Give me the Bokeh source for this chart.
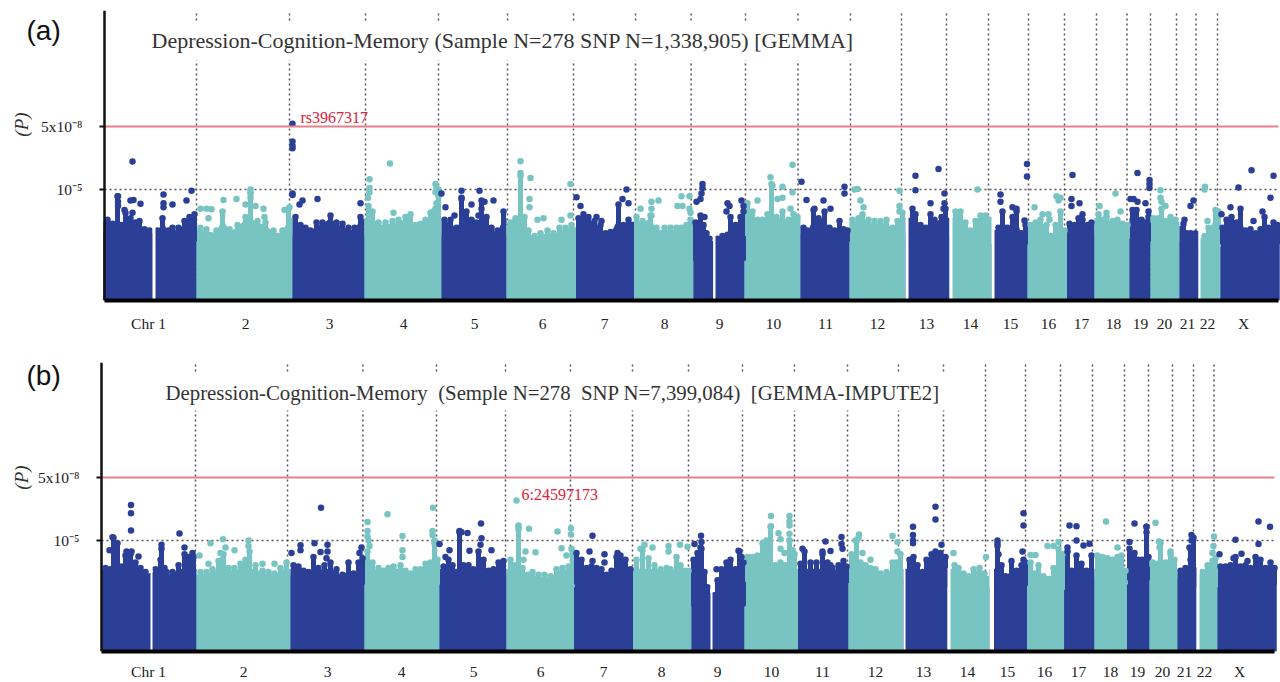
from bokeh.plotting import figure
from bokeh.layouts import column
from bokeh.models import Range1d, FixedTicker, Label
from bokeh.embed import file_html
from bokeh.resources import INLINE
import numpy as np

NAVY = "#2B3F96"
TEAL = "#77C4C2"
RED_LINE = "#E5808C"
RED_TEXT = "#E0203A"
DOT_GREY = "#555555"
SERIF = "Liberation Serif"

CHR_NAMES = ["Chr 1", "2", "3", "4", "5", "6", "7", "8", "9", "10", "11", "12", "13", "14", "15", "16", "17", "18", "19", "20", "21", "22", "X"]

# ---------- panel (a): position on the genome strip, -log10(P) ----------
A_LABEL_POS = [148, 245, 329, 403, 474, 542, 604, 664, 719, 773, 825, 877, 926, 970, 1010, 1048, 1081, 1113, 1140, 1164, 1187, 1207, 1243]
A_EDGES = [103, 196, 292, 364, 441, 506, 575.5, 633.5, 693, 744, 800, 849, 905, 949, 991, 1027, 1066.5, 1094, 1129, 1150, 1179, 1198, 1220, 1279]
A_BASE = [3.4, 3.4, 3.3, 3.35, 3.3, 3.3, 3.3, 3.5, 2.7, 3.6, 3.4, 3.55, 3.3, 3.3, 3.3, 3.3, 3.3, 3.5, 3.4, 3.5, 3.1, 3.2, 3.3]
A_GAPS = [(152, 155), (712.6, 715), (905, 908), (949, 952), (991, 994), (1198, 1200)]
A_DIVIDERS = [196, 289, 365, 438, 507, 573, 635, 690.6, 745, 797.5, 850, 901, 946, 988, 1028, 1064, 1096, 1126.5, 1150, 1176, 1195.5, 1217]
A_TOWERS = [
    (107, 3.9), (112, 3.75), (117, 4.75), (121, 3.7), (125, 4.15), (130, 3.95), (135, 3.8), (139, 3.85), (144, 3.55), (149, 3.5),
    (157, 3.5), (162, 3.95), (168, 3.5), (172, 3.6), (178, 3.6), (184, 3.85), (189, 4.0), (194, 4.1),
    (200, 3.6), (206, 3.55), (216, 3.5), (222, 4.2), (229, 3.55), (237, 3.7), (245, 4.0), (250, 4.9), (257, 3.85), (265, 3.8), (273, 3.5), (282, 3.5), (288, 4.3),
    (295, 4.0), (300, 3.7), (305, 3.6), (310, 3.5), (316, 3.8), (322, 3.8), (330, 4.05), (336, 3.8), (342, 3.75), (348, 3.6), (354, 3.6), (360, 4.0),
    (368, 4.4), (372, 4.2), (378, 3.8), (385, 3.8), (392, 3.85), (398, 3.9), (405, 4.0), (410, 4.1), (415, 3.7), (420, 3.75), (425, 3.9), (430, 4.15), (435, 4.3), (438, 5.0),
    (444, 3.9), (450, 3.9), (456, 3.6), (461, 4.7), (466, 4.2), (471, 3.9), (476, 3.8), (481, 4.6), (486, 4.0), (491, 3.6), (497, 3.5), (503, 4.2),
    (510, 3.8), (515, 3.95), (520, 5.5), (524, 4.0), (528, 3.5), (534, 3.3), (540, 3.4), (547, 3.5), (553, 3.4), (559, 3.6), (565, 3.6), (571, 3.7),
    (578, 3.95), (583, 4.1), (588, 4.0), (594, 3.85), (600, 3.7), (605, 3.4), (610, 3.45), (618, 4.45), (623, 3.7), (628, 3.9),
    (636, 4.0), (642, 3.85), (650, 4.05), (656, 3.6), (664, 3.6), (670, 3.6), (676, 3.6), (681, 3.6), (686, 3.7), (690, 3.9),
    (695, 3.8), (700, 4.05), (703, 3.7), (706, 3.4), (709, 3.2), (717, 3.2), (722, 3.3), (727, 3.35), (730, 4.0), (735, 3.7), (740, 4.0), (743, 4.2),
    (747, 4.5), (752, 4.2), (757, 3.9), (762, 3.9), (767, 4.1), (771, 5.2), (776, 4.0), (782, 4.2), (788, 3.9), (793, 4.1), (797, 4.0),
    (803, 3.6), (807, 3.5), (813, 4.25), (818, 3.95), (824, 4.2), (829, 3.6), (834, 3.5), (839, 3.85), (843, 3.55), (847, 3.5),
    (852, 3.9), (858, 3.95), (862, 4.1), (868, 3.9), (874, 3.85), (880, 3.85), (886, 3.9), (892, 3.6), (897, 3.85), (902, 4.15),
    (912, 4.3), (915, 4.1), (920, 3.7), (925, 3.6), (930, 4.1), (934, 3.9), (941, 4.0), (945, 4.3),
    (955, 4.2), (960, 4.2), (965, 3.8), (970, 3.5), (975, 3.85), (980, 4.05), (985, 4.05), (989, 3.9),
    (998, 3.6), (1002, 4.2), (1007, 3.6), (1012, 4.0), (1016, 4.2), (1021, 3.4), (1025, 3.7),
    (1030, 3.7), (1035, 3.8), (1040, 3.9), (1046, 3.7), (1050, 3.3), (1055, 3.7), (1060, 4.2), (1064, 3.5),
    (1069, 3.75), (1074, 3.7), (1078, 3.95), (1082, 3.9), (1087, 3.7), (1091, 3.8),
    (1098, 4.1), (1102, 3.9), (1106, 4.0), (1112, 3.85), (1117, 3.9), (1122, 3.75), (1127, 3.7),
    (1132, 4.25), (1136, 4.25), (1141, 3.9), (1145, 3.8), (1148, 4.0),
    (1153, 3.85), (1158, 3.95), (1161, 4.3), (1165, 3.85), (1170, 4.0), (1175, 3.9),
    (1183, 3.75), (1186, 3.4), (1190, 3.4), (1195, 3.4),
    (1204, 3.3), (1208, 3.6), (1215, 4.25), (1218, 4.2),
    (1222, 3.6), (1226, 3.9), (1231, 4.0), (1236, 3.8), (1240, 4.3), (1245, 3.5), (1250, 3.55), (1255, 3.4), (1260, 3.55), (1264, 4.0), (1268, 3.6), (1273, 3.8), (1277, 3.7),
]
A_DOTS = [
    (132, 6.02), (117.5, 4.75), (117.5, 4.55), (117.5, 4.4), (130, 4.6), (133, 4.62), (140, 4.48), (124, 4.25), (163, 4.82), (163, 4.5), (163, 4.35), (172, 4.45), (186, 4.6), (191, 4.95), (132, 4.15),
    (223, 4.62), (236, 4.65), (250, 5.0), (250, 4.85), (250, 4.7), (245, 4.45), (255, 4.4), (263, 4.3), (200, 4.3), (206, 4.3), (211, 4.28), (208, 3.95), (284, 4.25), (289, 4.35), (264, 4.0),
    (292, 7.4), (292, 6.75), (292, 6.6), (292, 6.5), (292, 4.8), (292, 4.85), (302, 4.6), (299, 4.45), (317, 4.65), (360, 4.5),
    (389.5, 5.95), (369, 5.37), (369, 5.05), (369, 4.9), (367.5, 4.7), (435, 5.2), (436, 5.05), (435, 4.9), (438, 4.75), (436, 4.5), (433, 4.2), (393, 4.15),
    (441, 4.85), (445, 4.35), (454, 4.05), (461, 4.95), (461, 4.65), (471, 4.45), (479, 4.95), (484, 4.55), (493, 4.6), (465, 4.1), (478, 4.05), (481, 4.3),
    (520, 6.03), (530, 5.42), (520, 5.6), (529, 4.65), (529, 4.35), (537, 3.9), (543, 3.95), (561, 3.9), (570, 5.2), (570, 4.05),
    (576, 4.72), (580, 4.4), (626, 5.0), (622, 4.65), (628, 4.5), (596, 4.0), (601, 3.85),
    (640, 4.3), (651, 4.55), (658, 4.6), (651, 4.3), (651, 4.05), (681, 4.75), (677, 4.4), (682, 4.4), (689, 4.75), (689, 4.3), (690, 4.15),
    (702, 5.2), (702, 5.05), (701, 4.85), (700, 4.65), (696, 4.55), (704, 4.0), (727, 4.5), (729, 4.4), (726, 4.2), (741, 4.6), (743, 4.4),
    (792, 5.9), (770, 5.45), (772, 5.15), (782, 5.1), (792, 4.9), (757, 4.6), (782, 4.7), (790, 4.3), (777, 4.65),
    (801, 5.28), (806, 4.62), (823, 4.6), (830, 4.3), (844, 5.1), (844, 4.85), (814, 4.3),
    (854, 5.0), (857, 5.02), (860, 4.6), (863, 4.35), (899, 4.95), (899, 4.4), (899, 4.2),
    (915, 5.5), (915, 4.97), (938, 5.75), (944, 4.85), (944, 4.5), (943, 4.3), (930, 4.5),
    (977, 5.0), (985, 4.0),
    (1026.5, 5.93), (1026.5, 5.47), (1000, 4.82), (1000, 4.55), (1012, 4.35), (1016, 4.3), (1024, 3.87),
    (1034, 4.35), (1042, 4.1), (1048, 4.1), (1056, 4.75), (1060, 4.7), (1058, 4.6), (1049, 3.9),
    (1072, 5.53), (1071, 4.65), (1071, 4.4), (1079, 4.5), (1082, 4.1),
    (1099, 4.4), (1115, 4.85), (1120, 4.2), (1106, 4.15),
    (1137, 5.6), (1149, 5.35), (1149, 5.2), (1149, 5.05), (1130, 4.65), (1133, 4.65), (1137, 4.55), (1145, 4.5), (1148, 4.2),
    (1160, 4.97), (1160, 4.7), (1161, 4.55), (1165, 4.4), (1153, 3.95),
    (1193, 4.6), (1190, 4.4), (1184, 3.9),
    (1204.5, 5.1), (1204, 5.0), (1207, 3.85),
    (1251, 5.7), (1273, 5.5), (1238, 5.07), (1270, 4.7), (1230, 4.35), (1221, 4.1), (1253, 3.85), (1262, 4.2),
]

# ---------- panel (b) ----------
B_LABEL_POS = [148, 243, 327, 401, 473, 540, 603, 661, 717, 771, 822, 875, 923, 967, 1007, 1044, 1078, 1110, 1137, 1162, 1184, 1204, 1239]
B_EDGES = [101, 196, 290, 364, 439, 506, 573.5, 632.6, 691, 744, 797.5, 848, 903, 947, 989, 1026.5, 1063.7, 1094, 1126.5, 1149, 1177, 1196, 1217, 1276]
B_BASE = [3.75, 3.75, 3.7, 3.7, 3.7, 3.6, 3.7, 3.8, 2.9, 3.8, 3.75, 3.75, 3.6, 3.6, 3.65, 3.5, 3.6, 3.7, 3.85, 3.8, 3.6, 3.6, 3.7]
B_GAPS = [(150, 152), (710, 712), (903, 905), (947, 950), (989, 993.5), (1196, 1199)]
B_DIVIDERS = [195, 287, 362.4, 436, 505, 570, 632, 688, 742, 794, 847, 898, 943, 985, 1025, 1060, 1092, 1124, 1148, 1172, 1193, 1213.5]
B_TOWERS = [
    (105, 4.0), (110, 3.95), (113, 5.1), (117, 4.9), (121, 4.05), (125, 4.45), (130, 4.5), (135, 4.2), (140, 4.0), (145, 3.85),
    (155, 3.95), (160, 4.3), (161, 4.7), (166, 3.85), (172, 3.85), (178, 4.1), (184, 4.5), (188, 4.4), (193, 4.4),
    (200, 3.85), (206, 3.85), (212, 3.95), (218, 4.25), (223, 4.5), (228, 4.0), (234, 4.0), (240, 4.15), (245, 4.3), (249, 4.6), (255, 4.1), (262, 3.9), (268, 3.85), (274, 3.8), (280, 4.0), (286, 4.2),
    (293, 4.1), (298, 4.05), (303, 3.9), (308, 3.85), (313, 4.4), (318, 4.0), (324, 4.1), (330, 4.2), (336, 3.95), (342, 3.75), (348, 4.2), (353, 3.8), (358, 4.2), (362, 4.35),
    (367, 4.6), (372, 4.2), (378, 4.0), (383, 3.9), (388, 4.0), (393, 4.05), (400, 4.1), (405, 3.9), (410, 3.8), (415, 3.95), (420, 3.95), (425, 4.15), (430, 4.2), (434, 4.9), (437, 4.3),
    (443, 4.05), (448, 4.3), (452, 4.1), (459, 5.3), (463, 4.1), (468, 4.1), (473, 3.95), (478, 4.6), (483, 4.3), (488, 3.9), (493, 3.95), (498, 4.2), (503, 4.25),
    (510, 4.3), (514, 4.1), (518, 5.5), (522, 4.0), (527, 3.75), (532, 3.85), (538, 3.75), (544, 3.75), (550, 3.7), (556, 3.95), (562, 4.0), (568, 4.05), (572, 4.6),
    (576, 4.55), (581, 4.3), (586, 4.0), (591, 4.05), (596, 4.0), (601, 3.95), (606, 3.75), (611, 3.9), (616, 4.4), (620, 4.45), (625, 4.3), (630, 3.95),
    (636, 4.3), (642, 4.65), (648, 4.35), (654, 4.1), (660, 3.95), (666, 4.0), (670, 3.95), (676, 4.4), (680, 4.1), (684, 3.9), (688, 3.9),
    (693, 4.3), (697, 4.55), (701, 4.7), (704, 3.85), (707, 3.3), (714, 3.0), (717, 3.55), (721, 3.95), (726, 4.2), (730, 4.3), (735, 3.95), (739, 4.6), (743, 4.2),
    (747, 4.4), (752, 4.4), (757, 4.45), (762, 4.9), (766, 5.0), (770, 5.5), (775, 4.1), (780, 4.2), (785, 4.1), (789, 5.0), (794, 4.5),
    (800, 4.15), (804, 4.6), (810, 4.2), (816, 4.2), (822, 4.5), (827, 4.2), (832, 4.0), (838, 4.1), (843, 4.25), (846, 4.05),
    (851, 4.5), (856, 5.0), (860, 4.2), (865, 4.1), (870, 4.0), (875, 3.95), (880, 3.8), (886, 3.85), (892, 4.2), (896, 4.2), (900, 4.5),
    (909, 4.3), (913, 4.4), (917, 4.1), (922, 3.85), (926, 4.3), (931, 4.5), (935, 4.6), (940, 4.55), (945, 4.4),
    (954, 4.1), (958, 4.0), (963, 3.8), (968, 3.7), (973, 3.95), (979, 4.0), (984, 3.8), (987, 3.6),
    (997, 4.9), (1001, 4.1), (1005, 3.7), (1011, 4.25), (1016, 3.9), (1021, 4.1), (1025, 4.2),
    (1030, 4.2), (1034, 3.8), (1038, 4.1), (1043, 3.7), (1048, 3.6), (1053, 4.0), (1058, 4.7), (1062, 4.5),
    (1067, 4.6), (1071, 3.9), (1076, 4.45), (1081, 4.15), (1086, 3.9), (1091, 4.45),
    (1097, 4.45), (1102, 4.4), (1107, 4.35), (1112, 4.3), (1117, 4.4), (1121, 4.45), (1125, 3.9),
    (1129, 4.7), (1134, 4.55), (1138, 4.3), (1142, 4.3), (1146, 5.5), (1148, 4.4),
    (1152, 4.1), (1157, 4.15), (1160, 4.9), (1165, 4.2), (1170, 4.5), (1174, 4.3),
    (1180, 3.9), (1185, 4.0), (1190, 4.7), (1193, 5.1), (1195, 3.9),
    (1202, 3.85), (1207, 4.1), (1212, 4.25), (1215, 4.35),
    (1220, 4.05), (1225, 4.05), (1230, 4.1), (1235, 4.4), (1240, 4.05), (1245, 4.1), (1250, 4.0), (1255, 4.4), (1260, 4.3), (1265, 4.0), (1270, 4.2), (1274, 4.0),
]
B_DOTS = [
    (130.5, 6.3), (130.5, 6.0), (130.5, 5.37), (179, 5.26), (112, 5.12), (109, 4.65), (138, 4.42), (161, 4.85), (164, 4.0), (184, 4.75), (192, 4.55), (126, 4.6), (131, 4.6),
    (210, 4.9), (222.5, 5.05), (225, 4.75), (234, 4.65), (248, 5.0), (248, 4.8), (199, 4.45), (208, 4.15), (220, 4.55), (222, 4.3), (262, 4.15), (274, 4.15),
    (320.5, 6.2), (314, 4.9), (327, 4.85), (300, 4.83), (300, 4.65), (291, 4.55), (320, 4.58), (327, 4.6), (359, 4.55), (361, 4.75), (326, 4.35),
    (367, 5.68), (387, 5.96), (432.5, 6.2), (367, 5.35), (367, 5.15), (368, 5.0), (369, 4.8), (402, 5.17), (402, 4.65), (402, 4.4), (432, 5.35), (432, 5.2), (434, 5.0),
    (439, 4.87), (449, 4.65), (480.5, 5.62), (481, 5.08), (459, 5.35), (467, 5.28), (469, 4.63), (491, 4.65), (461, 5.3), (480, 4.85), (445, 4.4),
    (516, 6.46), (528.5, 5.43), (518, 5.55), (518, 5.4), (535, 4.57), (525, 4.6), (557, 5.33), (570.5, 5.45), (570.5, 5.22), (561, 4.72), (566, 4.45), (571, 4.7), (523, 4.3),
    (592, 5.18), (589, 4.6), (592, 4.25), (604, 4.5), (604, 4.2), (617, 4.55),
    (652, 4.75), (668, 4.8), (668, 4.6), (679.5, 4.85), (687, 4.77), (644, 4.85), (640, 4.7),
    (700.5, 5.18), (701, 4.95), (700, 4.75), (694, 4.87), (716, 3.95), (738, 4.63), (741, 4.4),
    (770.5, 5.9), (770.5, 5.52), (789, 5.9), (789, 5.7), (789, 5.55), (789, 5.25), (789, 5.0), (778, 5.27), (780, 5.05), (780, 4.7), (792, 4.65), (784, 4.55),
    (825, 4.97), (830, 4.62), (841, 5.13), (841, 4.87), (842, 4.7), (822, 4.6), (830, 4.1), (802, 4.7),
    (858.5, 5.22), (858, 5.1), (855, 5.0), (892, 5.17), (897, 4.95), (897, 4.6), (862, 4.55), (870, 4.3),
    (912.5, 5.5), (912.5, 5.2), (912.5, 5.0), (912.5, 4.9), (935, 6.23), (935, 5.77), (941, 4.85),
    (953, 4.55), (985.5, 4.4),
    (1023, 6.0), (1023, 5.55), (1022, 4.6), (1023, 4.3), (997, 5.0), (997, 4.8), (998, 4.5),
    (1030, 4.47), (1035, 4.47), (1047, 4.8), (1053, 4.8), (1058, 4.95),
    (1069, 5.55), (1076, 5.52), (1076, 5.0), (1083, 4.82), (1089, 4.88), (1067, 4.75),
    (1105.5, 5.7), (1117, 4.75),
    (1134, 5.62), (1129, 4.95), (1146, 5.5), (1146, 5.3),
    (1155, 5.65), (1158.5, 4.97), (1159, 4.75), (1170, 4.6), (1152, 4.2),
    (1191, 5.2), (1191, 5.0), (1189, 4.75), (1190, 4.3),
    (1213.5, 5.15), (1213, 4.8), (1212, 4.55),
    (1258, 5.7), (1269.5, 5.5), (1235, 5.03), (1258, 4.87), (1219, 4.5), (1241, 4.52), (1233, 4.35), (1247, 4.25),
]

Y_TICKS = [5.0, 7.3]
Y_TICK_LABELS = {5.0: "10\u207b\u2075", 7.3: "5x10\u207b\u2078"}
GENOME_WIDE = 7.3
SUGGESTIVE = 5.0


def chrom_colors(edges, xs):
    idx = np.clip(np.searchsorted(edges, xs, side="right") - 1, 0, len(edges) - 2)
    return [NAVY if i % 2 == 0 else TEAL for i in idx]


def panel(edges, base, gaps, dividers, towers, dots, label_pos, y0, y1, x0, height, top, bottom, x_standoff,
          tag, tag_y, p_y, title, title_x, title_y, title_size, note, note_x, note_y, line_end):
    p = figure(width=1280, height=height, output_backend="svg", toolbar_location=None,
               x_range=Range1d(0, 1280), y_range=Range1d(y0, y1),
               min_border_left=0, min_border_right=0, min_border_top=top, min_border_bottom=bottom,
               background_fill_color="white", border_fill_color="white", outline_line_color=None)
    p.frame_align = False
    p.grid.visible = False

    p.segment(x0=dividers, y0=[y0] * len(dividers), x1=dividers, y1=[y1] * len(dividers),
              line_color=DOT_GREY, line_width=1.5, line_dash="2 3")
    p.segment(x0=[x0], y0=[SUGGESTIVE], x1=[line_end], y1=[SUGGESTIVE],
              line_color=DOT_GREY, line_width=1.5, line_dash="2 3")

    left, right = np.array(edges[:-1]), np.array(edges[1:])
    cols = [NAVY if i % 2 == 0 else TEAL for i in range(len(left))]
    p.quad(left=left, right=right, bottom=y0, top=base, fill_color=cols, line_color=None)

    tx = np.array([t[0] for t in towers], dtype=float)
    ty = np.array([t[1] for t in towers], dtype=float)
    idx = np.clip(np.searchsorted(edges, tx, side="right") - 1, 0, len(base) - 1)
    tower_cols = chrom_colors(edges, tx)

    # solid mass of each chromosome: joins the read tower tops, spikes left to the stems
    for i in range(len(base)):
        m = idx == i
        ex = np.concatenate([[left[i]], tx[m], [right[i]]])
        tops = np.minimum(ty[m], 4.05) - 0.08
        ey = np.concatenate([[tops[0]], tops, [tops[-1]]])
        p.varea(ex, np.full(ex.shape, y0), ey, fill_color=cols[i])

    p.segment(x0=tx, y0=np.array(base)[idx] - 0.3, x1=tx, y1=ty, line_color=tower_cols, line_width=5)
    p.scatter(tx, ty, size=6.5, fill_color=tower_cols, line_color=None)

    p.quad(left=[g[0] for g in gaps], right=[g[1] for g in gaps], bottom=y0 + 0.05, top=4.0,
           fill_color="white", line_color=None)

    dx = np.array([d[0] for d in dots], dtype=float)
    dy = np.array([d[1] for d in dots], dtype=float)
    p.scatter(dx, dy, size=6.5, fill_color=chrom_colors(edges, dx), line_color=None)

    p.segment(x0=[x0], y0=[GENOME_WIDE], x1=[line_end], y1=[GENOME_WIDE], line_color=RED_LINE, line_width=2)

    p.xaxis.ticker = FixedTicker(ticks=label_pos)
    p.xaxis.major_label_overrides = dict(zip(label_pos, CHR_NAMES))
    p.xaxis.bounds = (x0, line_end)
    p.xaxis.major_tick_line_color = None
    p.xaxis.minor_tick_line_color = None
    p.xaxis.major_tick_out = 0
    p.xaxis.major_tick_in = 0
    p.xaxis.axis_line_width = 4
    p.xaxis.axis_line_color = "black"
    p.xaxis.major_label_text_font = SERIF
    p.xaxis.major_label_text_font_size = "15.5px"
    p.xaxis.major_label_text_color = "#222222"
    p.xaxis.major_label_standoff = x_standoff

    p.yaxis.fixed_location = x0
    p.yaxis.ticker = FixedTicker(ticks=Y_TICKS)
    p.yaxis.major_label_overrides = Y_TICK_LABELS
    p.yaxis.minor_tick_line_color = None
    p.yaxis.axis_line_width = 2.5
    p.yaxis.axis_line_color = "#111111"
    p.yaxis.major_tick_line_color = "#111111"
    p.yaxis.major_tick_line_width = 2
    p.yaxis.major_tick_in = 0
    p.yaxis.major_tick_out = 5
    p.yaxis.major_label_text_font = SERIF
    p.yaxis.major_label_text_font_size = "15.5px"
    p.yaxis.major_label_text_color = "#222222"
    p.yaxis.major_label_standoff = 17

    p.add_layout(Label(x=26, y=tag_y, text=tag, text_font="Liberation Sans",
                       text_font_size="28px", text_color="#111111", text_baseline="middle"))
    p.add_layout(Label(x=title_x, y=title_y, text=title, text_font=SERIF, text_font_size=title_size,
                       text_color="#333333", text_baseline="middle", background_fill_color="white", padding=7))
    p.add_layout(Label(x=note_x, y=note_y, text=note, text_font=SERIF, text_font_size="16px",
                       text_color=RED_TEXT, text_baseline="middle"))
    p.add_layout(Label(x=21, y=p_y, text="(P)", text_font=SERIF,
                       text_font_style="italic", text_font_size="19px", text_color="#333333",
                       angle=90, angle_units="deg", text_align="center", text_baseline="middle"))
    return p


p1 = panel(A_EDGES, A_BASE, A_GAPS, A_DIVIDERS, A_TOWERS, A_DOTS, A_LABEL_POS, 0.95, 11.53, 104, 340, 10, 40, 14,
           "(a)", 10.8, 7.37, "Depression-Cognition-Memory (Sample N=278 SNP N=1,338,905) [GEMMA]", 144, 10.42, "22px",
           "rs3967317", 300, 7.63, 1278)
p2 = panel(B_EDGES, B_BASE, B_GAPS, B_DIVIDERS, B_TOWERS, B_DOTS, B_LABEL_POS, 0.95, 11.5, 101, 342, 22, 31, 11,
           "(b)", 11.02, 7.3, "Depression-Cognition-Memory\u00a0\u00a0(Semple N=278\u00a0\u00a0SNP N=7,399,084)\u00a0\u00a0[GEMMA-IMPUTE2]", 158, 10.42, "20.8px",
           "6:24597173", 521, 6.67, 1274)

page = column(p1, p2, spacing=0)
open("out.html", "w").write(file_html(page, INLINE))
